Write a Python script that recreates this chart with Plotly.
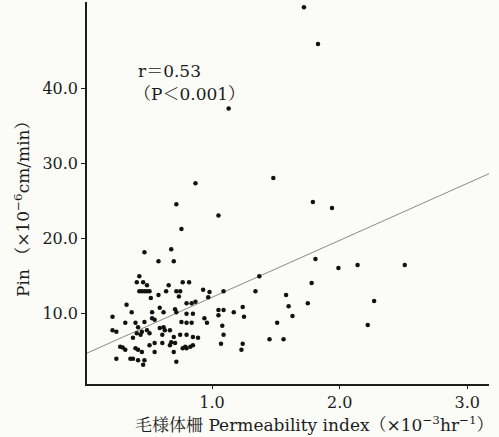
import plotly.graph_objects as go

# Permeability index (x10^-3 hr^-1)
perm_index = [
    1.72, 1.83, 1.13, 0.87, 1.48, 0.72, 1.05, 0.76, 1.79, 1.94,
    0.47, 0.68, 0.58, 0.70, 0.43, 0.46, 0.41, 0.49, 0.43, 0.45,
    0.47, 0.49, 0.51, 0.64, 0.66, 0.72, 0.75, 0.77, 0.82, 0.52,
    0.58, 0.74, 0.93, 0.98, 0.97, 1.09, 1.34, 1.37, 1.58, 1.81,
    1.99, 2.14, 2.51, 1.78, 1.60, 1.75, 1.63, 2.27, 2.22, 1.56,
    1.45, 1.51, 1.24, 1.23, 1.07, 1.09, 1.08, 1.05, 1.05, 1.09,
    1.17, 1.24, 1.25, 0.94, 0.96, 0.80, 0.84, 0.87, 0.80, 0.85,
    0.71, 0.72, 0.62, 0.59, 0.53, 0.33, 0.37, 0.22, 0.22, 0.25,
    0.32, 0.40, 0.42, 0.41, 0.45, 0.49, 0.51, 0.44, 0.47, 0.53,
    0.55, 0.62, 0.59, 0.63, 0.67, 0.76, 0.80, 0.84, 0.61, 0.70,
    0.75, 0.80, 0.85, 0.89, 0.28, 0.30, 0.32, 0.38, 0.40, 0.42,
    0.45, 0.51, 0.55, 0.55, 0.61, 0.67, 0.68, 0.71, 0.70, 0.77,
    0.79, 0.80, 0.83, 0.85, 0.25, 0.36, 0.38, 0.42, 0.47, 0.46,
    0.72,
]
# Pin (x10^-6 cm/min)
pin_values = [
    50.8, 45.9, 37.3, 27.3, 28.0, 24.5, 23.0, 21.2, 24.8, 24.0,
    18.1, 18.5, 16.9, 16.9, 14.9, 14.1, 14.1, 13.7, 12.9, 12.9,
    12.9, 12.9, 12.9, 12.9, 13.7, 12.9, 12.9, 14.1, 14.1, 12.0,
    12.4, 12.2, 13.1, 12.8, 12.1, 12.9, 12.9, 14.9, 12.4, 17.2,
    16.0, 16.4, 16.4, 14.0, 10.9, 11.3, 9.6, 11.6, 8.4, 6.5,
    6.5, 8.7, 5.9, 5.1, 5.9, 7.1, 8.3, 10.4, 9.7, 10.4,
    10.1, 10.8, 9.5, 9.3, 8.7, 11.3, 11.3, 11.5, 9.9, 9.9,
    10.5, 10.1, 10.1, 10.7, 10.1, 11.1, 10.1, 9.5, 7.7, 7.5,
    8.7, 8.7, 8.1, 7.3, 7.5, 7.7, 7.3, 7.1, 8.8, 9.3,
    9.1, 8.1, 8.0, 7.7, 7.7, 8.8, 8.7, 8.7, 7.1, 6.8,
    7.1, 7.1, 6.8, 6.7, 5.5, 5.4, 5.1, 6.7, 5.3, 5.1,
    4.8, 5.7, 6.0, 4.8, 6.0, 5.7, 6.1, 6.0, 4.8, 5.3,
    5.5, 5.3, 5.5, 5.7, 3.9, 3.9, 3.9, 3.7, 3.7, 3.1,
    3.5,
]

# regression line
reg_intercept = 4.5
reg_slope = 7.6
x_range = [0.02, 3.17]
y_range = [0.53, 51.5]

x_ticks = [1.0, 2.0, 3.0]
x_tick_labels = ["1.0", "2.0", "3.0"]
y_ticks = [10.0, 20.0, 30.0, 40.0]
y_tick_labels = ["10.0", "20.0", "30.0", "40.0"]

stat_lines = ["r＝0.53", "（P＜0.001）"]
x_title = "毛様体柵 Permeability index（×10<sup>−3</sup>hr<sup>−1</sup>）"
y_title = "Pin （×10<sup>−6</sup>cm/min）"

FONT = "'DejaVu Serif', 'Noto Serif CJK JP', 'Noto Sans CJK JP', serif"
INK = "#1c1c1c"

W, H = 499, 437
ML, MR, MT, MB = 87, 10, 2, 53
PW, PH = W - ML - MR, H - MT - MB


def px_x(p):
    return (p - ML) / PW


def px_y(p):
    return (H - MB - p) / PH


fig = go.Figure()
fig.add_trace(go.Scatter(
    x=x_range,
    y=[reg_intercept + reg_slope * v for v in x_range],
    mode="lines",
    line=dict(color="#8a8a86", width=1),
    hoverinfo="skip",
))
fig.add_trace(go.Scatter(
    x=perm_index, y=pin_values, mode="markers",
    marker=dict(color="#111111", size=4.5),
    cliponaxis=False,
))

fig.update_layout(
    width=W, height=H,
    margin=dict(l=ML, r=MR, t=MT, b=MB),
    paper_bgcolor="#fbfbf8", plot_bgcolor="#fbfbf8",
    showlegend=False,
    font=dict(family=FONT, color=INK, size=15),
)
fig.update_xaxes(
    range=x_range, tickvals=x_ticks, ticktext=x_tick_labels,
    showgrid=False, zeroline=False, showline=True, linecolor=INK, linewidth=1.5,
    ticks="outside", ticklen=3, tickcolor=INK,
    tickfont=dict(size=16, family=FONT, color=INK),
)
fig.update_yaxes(
    range=y_range, tickvals=y_ticks, ticktext=y_tick_labels,
    showgrid=False, zeroline=False, showline=True, linecolor=INK, linewidth=1.5,
    ticks="outside", ticklen=4, tickcolor=INK,
    tickfont=dict(size=16, family=FONT, color=INK),
)

fig.add_annotation(
    x=px_x(136), y=px_y(71), xref="paper", yref="paper",
    text=stat_lines[0], showarrow=False, xanchor="left", yanchor="middle",
    font=dict(size=17, family=FONT, color=INK),
)
fig.add_annotation(
    x=px_x(132), y=px_y(94), xref="paper", yref="paper",
    text=stat_lines[1], showarrow=False, xanchor="left", yanchor="middle",
    font=dict(size=17, family=FONT, color=INK),
)
fig.add_annotation(
    x=px_x(314), y=px_y(424), xref="paper", yref="paper",
    text=x_title, showarrow=False, xanchor="center", yanchor="middle",
    font=dict(size=17, family=FONT, color=INK),
)
fig.add_annotation(
    x=px_x(22), y=px_y(205), xref="paper", yref="paper",
    text=y_title, showarrow=False, textangle=-90, xanchor="center", yanchor="middle",
    font=dict(size=17, family=FONT, color=INK),
)

fig.write_html("out.html")
